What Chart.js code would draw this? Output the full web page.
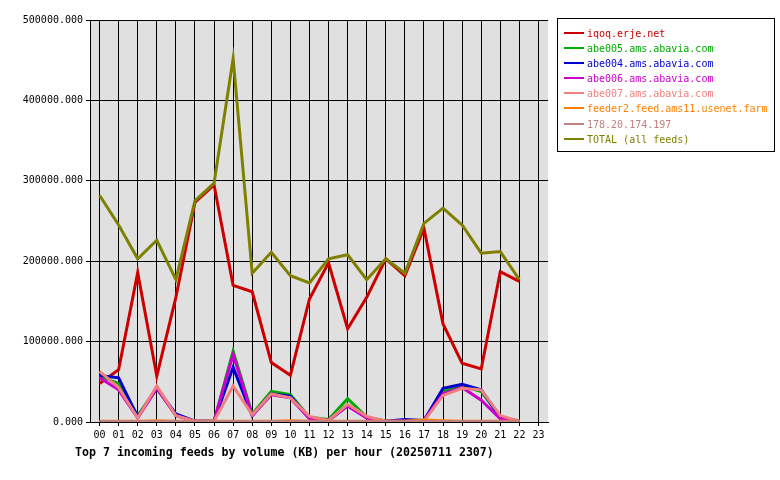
<!DOCTYPE html>
<html><head><meta charset="utf-8">
<script src="https://cdn.jsdelivr.net/npm/chart.js@4"></script>
<style>
body{margin:0;background:#fff;font-family:"DejaVu Sans Mono",monospace;}
#wrap{position:relative;width:780px;height:480px;}
#legend{position:absolute;left:557px;top:18px;width:218px;height:134px;border:1px solid #000;box-sizing:border-box;padding:7px 0 0 6px;font-size:10px;line-height:15.1px;}
#legend div{white-space:nowrap;}
#legend span.m{display:inline-block;width:20px;height:2px;vertical-align:middle;margin-right:3px;position:relative;top:-1px;}
#title{position:absolute;left:75px;top:445px;font-size:11.6px;font-weight:bold;}
</style></head><body>
<div id="wrap"><canvas id="c" width="780" height="480"></canvas>
<div id="legend"></div>
<div id="title">Top 7 incoming feeds by volume (KB) per hour (20250711 2307)</div></div>
<script>
const hours=["00","01","02","03","04","05","06","07","08","09","10","11","12","13","14","15","16","17","18","19","20","21","22","23"];
const iqoq=[48000,65000,186000,57000,155000,273000,295000,170000,162000,74000,58000,153000,198000,116000,155000,203000,182000,241000,122000,73000,66000,187000,175000,null];
const abe005=[57000,48000,8000,42000,8000,1000,1000,88000,10000,38000,34000,6000,3000,29000,6000,1000,1000,2000,38000,45000,38000,6000,1000,null];
const abe004=[58000,55000,6000,42000,10000,1000,1000,68000,8000,35000,32000,5000,2000,20000,6000,1000,3000,2000,42000,47000,40000,6000,1000,null];
const abe006=[55000,40000,5000,42000,8000,1000,1000,84000,8000,34000,30000,4000,2000,20000,5000,1000,1000,2000,35000,43000,27000,4000,1000,null];
const abe007=[63000,43000,5000,45000,8000,1000,1000,45000,9000,35000,30000,7000,2000,22000,7000,1000,1000,1000,33000,42000,40000,8000,1000,null];
const feeder2=[1000,1000,1000,1500,1000,1000,1000,1000,1000,1000,1500,1000,1000,1000,1000,1000,1000,2500,1500,1000,1000,1000,1000,null];
const ip178=[500,500,500,500,500,500,500,500,500,500,500,500,500,500,500,500,500,500,500,500,500,500,500,null];
const total=[282000,245000,203000,226000,177000,275000,297000,452000,185000,211000,182000,173000,203000,208000,177000,203000,185000,247000,266000,245000,210000,212000,177000,null];
const yTicks=[0,100000,200000,300000,400000,500000];
const series=[
["iqoq.erje.net",iqoq,"#cc0000"],
["abe005.ams.abavia.com",abe005,"#00aa00"],
["abe004.ams.abavia.com",abe004,"#0000cc"],
["abe006.ams.abavia.com",abe006,"#cc00cc"],
["abe007.ams.abavia.com",abe007,"#f08080"],
["feeder2.feed.ams11.usenet.farm",feeder2,"#ff8000"],
["178.20.174.197",ip178,"#c08080"],
["TOTAL (all feeds)",total,"#808000"]];
const lg=document.getElementById('legend');
series.forEach(s=>{const d=document.createElement('div');d.style.color=s[2];d.innerHTML='<span class="m" style="background:'+s[2]+'"></span>'+s[0];lg.appendChild(d);});
const F={family:"DejaVu Sans Mono",size:10};
new Chart(document.getElementById('c'),{type:'line',
data:{labels:hours,datasets:series.map((s,i)=>({label:s[0],data:s[1],borderColor:s[2],backgroundColor:s[2],borderWidth:3,pointRadius:0,tension:0,order:7-i}))},
plugins:[{id:'bg',beforeDraw(c){const a=c.chartArea,x=c.ctx;x.save();x.fillStyle='#e0e0e0';x.fillRect(a.left,a.top,a.right-a.left,a.bottom-a.top);x.restore();}}],
options:{responsive:false,animation:false,layout:{padding:{top:20,right:232,bottom:36,left:0}},
plugins:{legend:{display:false},tooltip:{enabled:false}},
scales:{
x:{offset:true,grid:{offset:false,color:'#000',lineWidth:1,tickLength:4},border:{color:'#000'},ticks:{color:'#000',font:F,maxRotation:0,autoSkip:false}},
y:{min:0,max:500000,afterFit(s){s.width=90;},afterBuildTicks(s){s.ticks=yTicks.map(v=>({value:v}));},grid:{color:'#000',tickLength:4},border:{color:'#000'},ticks:{color:'#000',font:F,callback:v=>v.toFixed(3)}}}}});
</script></body></html>
